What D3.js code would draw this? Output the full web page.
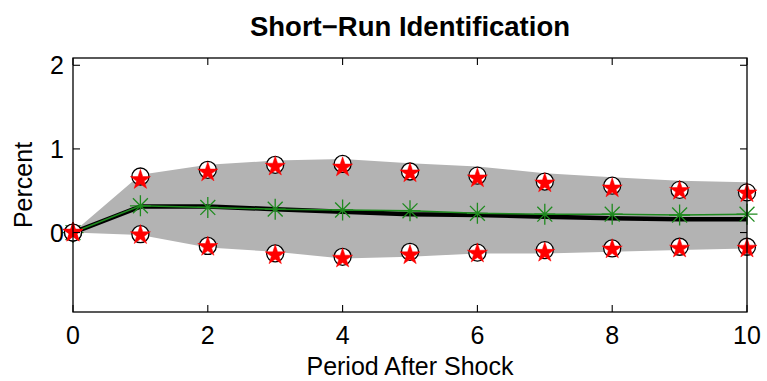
<!DOCTYPE html>
<html><head><meta charset="utf-8">
<script src="https://cdn.jsdelivr.net/npm/d3@7"></script>
<style>body{margin:0;background:#fff}svg{display:block}text{font-family:"Liberation Sans",Arial,sans-serif}</style>
</head><body><svg id="c" width="767" height="381"></svg>
<script>
const periods = [0,1,2,3,4,5,6,7,8,9,10];
const irfBlack = [0,0.31,0.31,0.28,0.25,0.22,0.21,0.19,0.17,0.16,0.16];
const irfGreen = [0,0.32,0.30,0.28,0.27,0.26,0.23,0.22,0.22,0.21,0.22];
const bandUpper = [0,0.69,0.81,0.86,0.88,0.83,0.79,0.71,0.66,0.62,0.60];
const bandLower = [0,-0.03,-0.18,-0.23,-0.31,-0.29,-0.25,-0.25,-0.23,-0.21,-0.19];
const circleUpper = [0,0.67,0.75,0.81,0.82,0.73,0.68,0.61,0.56,0.51,0.48];
const starUpper = [0,0.63,0.72,0.79,0.78,0.71,0.65,0.59,0.53,0.50,0.47];
const circleLower = [0,-0.02,-0.16,-0.25,-0.29,-0.23,-0.24,-0.21,-0.19,-0.17,-0.17];
const starLower = [0,-0.03,-0.17,-0.27,-0.31,-0.27,-0.25,-0.24,-0.20,-0.19,-0.19];
const xTicks = [0,2,4,6,8,10];
const yTicks = [0,1,2];
const title = "Short\u2212Run Identification";
const xLabel = "Period After Shock";
const yLabel = "Percent";

const svg = d3.select("#c");
const L=73, R=747, T=58, B=312;
const x = d3.scaleLinear().domain([0,10]).range([L,R]);
const y = d3.scaleLinear().domain([-0.95,2.087]).range([B,T]);

const band = d3.area().x((d,i)=>x(periods[i])).y0((d,i)=>y(bandLower[i])).y1((d,i)=>y(bandUpper[i]));
svg.append("path").datum(periods).attr("d",band).attr("fill","#b3b3b3");

const line = arr => d3.line().x((d,i)=>x(periods[i])).y((d,i)=>y(arr[i]))(periods);
svg.append("path").attr("d",line(irfBlack)).attr("fill","none").attr("stroke","#000").attr("stroke-width",4.5);
svg.append("path").attr("d",line(irfGreen)).attr("fill","none").attr("stroke","#1e8a1e").attr("stroke-width",1.5);

const ast = 10.5;
const astPath = `M${-ast},0L${ast},0M0,${-ast}L0,${ast}M${-ast*0.71},${-ast*0.71}L${ast*0.71},${ast*0.71}M${-ast*0.71},${ast*0.71}L${ast*0.71},${-ast*0.71}`;
svg.append("g").selectAll("path").data(periods).join("path")
  .attr("transform",(d,i)=>`translate(${x(d)},${y(irfGreen[i])})`)
  .attr("d",astPath).attr("stroke","#1e8a1e").attr("stroke-width",1.3).attr("fill","none");

function circles(arr){
  svg.append("g").selectAll("circle").data(periods).join("circle")
    .attr("cx",d=>x(d)).attr("cy",(d,i)=>y(arr[i])).attr("r",8.5)
    .attr("fill","#fff").attr("stroke","#000").attr("stroke-width",1.3);
}
function stars(arr){
  svg.append("g").selectAll("path").data(periods).join("path")
    .attr("transform",(d,i)=>`translate(${x(d)},${y(arr[i])})`)
    .attr("d",d3.symbol(d3.symbolStar,125)()).attr("fill","#ff0000").attr("stroke","#ff0000").attr("stroke-width",0.5);
}
circles(circleUpper); circles(circleLower);
stars(starUpper); stars(starLower);

// axes box
svg.append("rect").attr("x",L).attr("y",T).attr("width",R-L).attr("height",B-T).attr("fill","none").attr("stroke","#000").attr("stroke-width",1.3);
const tl=7;
xTicks.forEach(t=>{
  svg.append("line").attr("x1",x(t)).attr("x2",x(t)).attr("y1",B).attr("y2",B-tl).attr("stroke","#000").attr("stroke-width",1.1);
  svg.append("line").attr("x1",x(t)).attr("x2",x(t)).attr("y1",T).attr("y2",T+tl).attr("stroke","#000").attr("stroke-width",1.1);
  svg.append("text").attr("x",x(t)).attr("y",B+32).attr("text-anchor","middle").attr("font-size",25).text(t);
});
yTicks.forEach(t=>{
  svg.append("line").attr("x1",L).attr("x2",L+tl).attr("y1",y(t)).attr("y2",y(t)).attr("stroke","#000").attr("stroke-width",1.1);
  svg.append("line").attr("x1",R).attr("x2",R-tl).attr("y1",y(t)).attr("y2",y(t)).attr("stroke","#000").attr("stroke-width",1.1);
  svg.append("text").attr("x",L-9).attr("y",y(t)+9).attr("text-anchor","end").attr("font-size",25).text(t);
});
svg.append("text").attr("x",(L+R)/2).attr("y",375).attr("text-anchor","middle").attr("font-size",25).text(xLabel);
svg.append("text").attr("transform",`translate(32,${(T+B)/2}) rotate(-90)`).attr("text-anchor","middle").attr("font-size",25).text(yLabel);
svg.append("text").attr("x",(L+R)/2).attr("y",36).attr("text-anchor","middle").attr("font-size",27.5).attr("font-weight","bold").text(title);
</script></body></html>
